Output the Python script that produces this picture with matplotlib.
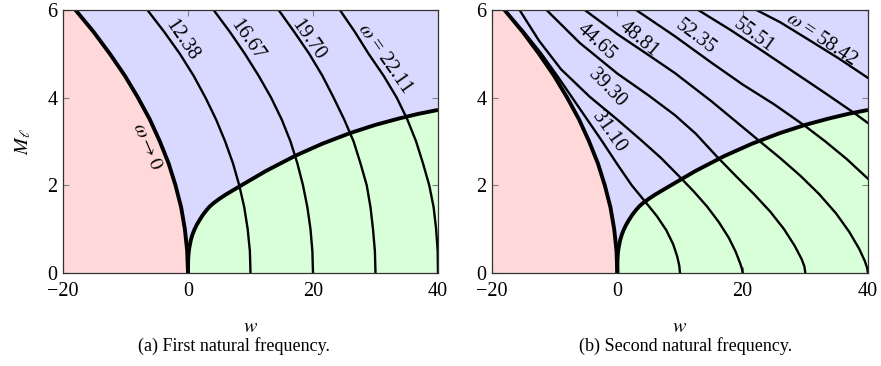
import matplotlib
matplotlib.use("Agg")
import matplotlib.pyplot as plt

plt.rcParams['font.family'] = 'serif'
plt.rcParams['font.serif'] = ['Liberation Serif', 'DejaVu Serif']
plt.rcParams['mathtext.fontset'] = 'stix'

# stability boundaries (same in both panels)
b0_m = [0, 0.5, 1, 1.5, 2, 2.5, 3, 3.5, 4, 4.5, 5, 5.5, 6]
b0_w = [0, -0.13, -0.5, -1.1, -2.0, -3.1, -4.5, -6.1, -8.0, -10.1, -12.5, -15.1, -18.0]
b1_w = [0, 0.006, 0.03, 0.1, 0.2, 0.45, 0.7, 1.0, 1.4, 1.9, 2.4, 3.0, 3.5, 4.05, 5.0, 6.0,
        7.0, 8.3, 12.5, 17.1, 21.5, 25.9, 30.0, 33.9, 37.0, 40.0]
b1_m = [0, 0.18, 0.32, 0.46, 0.57, 0.75, 0.87, 0.98, 1.1, 1.22, 1.33, 1.44, 1.52, 1.59, 1.69, 1.785,
        1.87, 1.98, 2.33, 2.67, 2.95, 3.19, 3.38, 3.53, 3.635, 3.72]

# first natural frequency, iso-omega lines
m1 = [0, 0.5, 1, 1.5, 2, 2.5, 3, 3.5, 4, 4.5, 5, 5.5, 6]
w_1238 = [10.0, 9.9, 9.55, 9.0, 8.2, 7.2, 5.95, 4.5, 2.8, 0.9, -1.3, -3.8, -6.5]
w_1667 = [20.0, 19.9, 19.6, 19.1, 18.4, 17.5, 16.4, 15.0, 13.3, 11.3, 9.1, 6.7, 4.1]
w_1970 = [30.0, 29.9, 29.6, 29.2, 28.6, 27.6, 26.5, 25.0, 23.3, 21.5, 19.4, 17.0, 14.5]
w_2211 = [40.0, 39.95, 39.7, 39.3, 38.6, 37.6, 36.5, 35.1, 33.4, 31.3, 28.9, 26.7, 24.3]
labels1 = ['12.38', '16.67', '19.70', r'$\omega$ = 22.11']

# second natural frequency, iso-omega lines
w_3110 = [-18.0, -14.9, -12.1, -9.6, -7.2, -4.8, -2.4, -0.1, 2.3, 4.6, 6.3, 7.8, 8.9, 9.55, 9.88, 10.0]
m_3110 = [6.0, 5.5, 5.0, 4.5, 4.0, 3.5, 3.0, 2.5, 2.0, 1.6, 1.3, 0.98, 0.66, 0.38, 0.17, 0.0]
w_3930 = [-15.6, -12.5, -9.0, -4.4, 0.0, 3.8, 7.0, 9.9, 12.2, 14.3, 16.2, 17.8, 18.9, 19.6, 19.88, 20.0]
m_3930 = [6.0, 5.3, 4.65, 4.02, 3.5, 3.03, 2.62, 2.2, 1.86, 1.52, 1.16, 0.8, 0.48, 0.22, 0.1, 0.0]
w_4465 = [-11.3, -6.0, 0.0, 5.0, 9.2, 12.5, 15.8, 19.0, 21.8, 24.4, 26.6, 28.3, 29.4, 29.85, 30.0]
m_4465 = [6.0, 5.25, 4.55, 4.05, 3.6, 3.18, 2.67, 2.2, 1.8, 1.4, 1.0, 0.62, 0.32, 0.15, 0.0]
w_4881 = [-5.2, 0.0, 5.0, 9.2, 15.0, 22.6, 26.0, 29.2, 32.2, 34.9, 37.0, 38.6, 39.5, 39.85, 40.0]
m_4881 = [6.0, 5.45, 4.97, 4.56, 3.92, 3.02, 2.62, 2.22, 1.8, 1.36, 0.94, 0.55, 0.27, 0.12, 0.0]
w_5235 = [3.0, 9.2, 15.0, 20.0, 25.0, 29.9, 33.2, 36.6, 40.0]
m_5235 = [6.0, 5.4, 4.8, 4.3, 3.85, 3.36, 3.0, 2.6, 2.15]
w_5551 = [12.9, 18.0, 23.0, 28.0, 33.0, 37.9, 40.0]
m_5551 = [6.0, 5.55, 5.08, 4.6, 4.12, 3.64, 3.42]
w_5842 = [22.2, 26.0, 31.0, 35.5, 40.0]
m_5842 = [6.0, 5.72, 5.28, 4.88, 4.45]
labels2 = ['31.10', '39.30', '44.65', '48.81', '52.35', '55.51', r'$\omega$ = 58.42']

fig = plt.figure(figsize=(8.81, 3.66), dpi=100)
ax1 = fig.add_axes([63/881, 1-273/366, 375/881, 263/366])
ax2 = fig.add_axes([492/881, 1-273/366, 376/881, 263/366])

FS = 14.5


def base(ax):
    ax.set_xlim(-20, 40)
    ax.set_ylim(0, 6)
    ax.fill_between([-20, 40], 0, 6, color='#D9D9FF', lw=0, zorder=0)
    ax.fill_betweenx(b0_m, -20, b0_w, color='#FFD9D9', lw=0, zorder=1)
    ax.fill_between(b1_w, 0, b1_m, color='#D9FFD9', lw=0, zorder=1)
    ax.plot(b0_w, b0_m, color='black', lw=2.8, zorder=4, solid_capstyle='butt')
    ax.plot(b1_w, b1_m, color='black', lw=2.8, zorder=4, solid_capstyle='butt')
    ax.set_xticks([-20, 0, 20, 40])
    ax.set_yticks([0, 2, 4, 6])
    ax.tick_params(direction='in', color='gray', length=4, width=0.8,
                   top=True, right=True, labelsize=FS)
    ax.tick_params(axis='x', pad=6.5)
    ax.tick_params(axis='y', pad=4)
    for s in ax.spines.values():
        s.set_color('#333333')
        s.set_linewidth(0.9)
        s.set_zorder(5)
    ax.set_xlabel(r'$w$', fontsize=FS, labelpad=12)


base(ax1)
for w in [w_1238, w_1667, w_1970, w_2211]:
    ax1.plot(w, m1, color='black', lw=1.7, zorder=3)
pos1 = [(-1.0, 5.32, -56), (9.4, 5.32, -55), (19.25, 5.32, -55), (31.4, 4.88, -55)]
for lab, (x, y, r) in zip(labels1, pos1):
    ax1.text(x, y, lab, rotation=r, ha='center', va='center',
             rotation_mode='anchor', fontsize=FS, zorder=6)
ax1.text(-6.6, 2.88, r'$\omega \to 0$', rotation=-67, ha='center', va='center',
         rotation_mode='anchor', fontsize=FS, zorder=6)
ax1.set_ylabel(r'$M_\ell$', fontsize=FS, labelpad=10)

base(ax2)
curves2 = [(w_3110, m_3110), (w_3930, m_3930), (w_4465, m_4465), (w_4881, m_4881),
           (w_5235, m_5235), (w_5551, m_5551), (w_5842, m_5842)]
for w, m in curves2:
    ax2.plot(w, m, color='black', lw=1.7, zorder=3)
pos2 = [(-1.44, 3.22, -55), (-1.7, 4.21, -46), (-3.36, 5.28, -42), (3.4, 5.34, -40),
        (12.4, 5.38, -37), (21.7, 5.41, -36), (32.6, 5.32, -34)]
for lab, (x, y, r) in zip(labels2, pos2):
    ax2.text(x, y, lab, rotation=r, ha='center', va='center',
             rotation_mode='anchor', fontsize=FS, zorder=6)

fig.text(234/881, 1-346/366, '(a) First natural frequency.', ha='center', va='center', fontsize=13)
fig.text(686/881, 1-346/366, '(b) Second natural frequency.', ha='center', va='center', fontsize=13)

fig.savefig('out.png', dpi=100)
